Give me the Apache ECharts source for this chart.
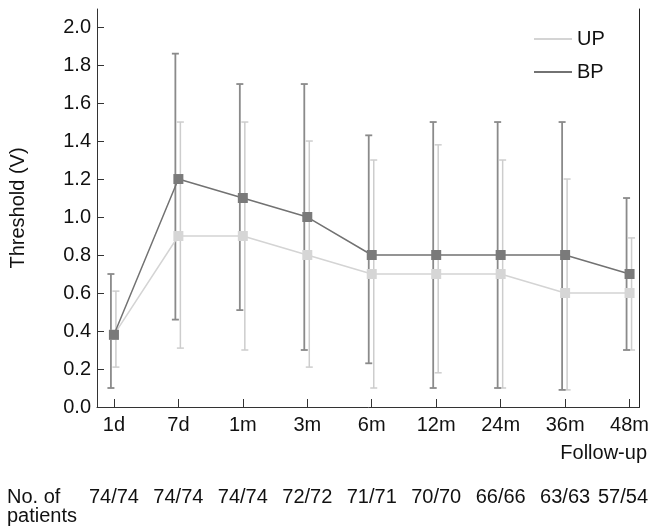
<!DOCTYPE html>
<html>
<head>
<meta charset="utf-8">
<script src="https://cdn.jsdelivr.net/npm/echarts@6/dist/echarts.min.js"></script>
<style>
  html, body { margin: 0; padding: 0; background: #fff; }
  #chart { width: 652px; height: 531px; }
</style>
</head>
<body>
<div id="chart"></div>
<script>
// follow-up time points
const categories = ['1d', '7d', '1m', '3m', '6m', '12m', '24m', '36m', '48m'];

// BP: mean and range
const bpMean = [0.38, 1.2, 1.1, 1.0, 0.8, 0.8, 0.8, 0.8, 0.7];
const bpLow = [0.1, 0.46, 0.51, 0.3, 0.23, 0.1, 0.1, 0.09, 0.3];
const bpHigh = [0.7, 1.86, 1.7, 1.7, 1.43, 1.5, 1.5, 1.5, 1.1];

// UP: mean and range
const upMean = [0.38, 0.9, 0.9, 0.8, 0.7, 0.7, 0.7, 0.6, 0.6];
const upLow = [0.21, 0.31, 0.3, 0.21, 0.1, 0.18, 0.1, 0.09, 0.3];
const upHigh = [0.61, 1.5, 1.5, 1.4, 1.3, 1.38, 1.3, 1.2, 0.89];

// number of patients (UP/BP)
const patients = ['74/74', '74/74', '74/74', '72/72', '71/71', '70/70', '66/66', '63/63', '57/54'];

const yTicks = [0, 0.2, 0.4, 0.6, 0.8, 1.0, 1.2, 1.4, 1.6, 1.8, 2.0];
const xTicks = categories.map((c, i) => i);

const FONT = "'Liberation Sans', Arial, sans-serif";
const UP_LINE = '#d4d4d4';
const UP_BAR = '#cdcdcd';
const BP_LINE = '#727272';
const BP_BAR = '#8a8a8a';

function errorBar(dx, color, width) {
  return function (params, api) {
    const x = api.value(0);
    const lo = api.coord([x, api.value(1)]);
    const hi = api.coord([x, api.value(2)]);
    const cx = lo[0] + dx;
    const half = 3.5;
    const style = { stroke: color, lineWidth: width };
    return {
      type: 'group',
      children: [
        { type: 'line', shape: { x1: cx, y1: hi[1], x2: cx, y2: lo[1] }, style },
        { type: 'line', shape: { x1: cx - half, y1: hi[1], x2: cx + half, y2: hi[1] }, style },
        { type: 'line', shape: { x1: cx - half, y1: lo[1], x2: cx + half, y2: lo[1] }, style },
      ],
    };
  };
}

const chart = echarts.init(document.getElementById('chart'));

chart.setOption({
  backgroundColor: '#fff',
  animation: false,
  textStyle: { fontFamily: FONT },
  grid: { left: 96, right: 11, top: 9, bottom: 124 },
  legend: {
    orient: 'vertical',
    left: 529,
    top: 24,
    itemWidth: 38,
    itemHeight: 2,
    itemGap: 13,
    textStyle: { fontSize: 20, color: '#111', fontFamily: FONT },
    data: [
      { name: 'UP', icon: 'rect', itemStyle: { color: UP_LINE } },
      { name: 'BP', icon: 'rect', itemStyle: { color: BP_LINE } },
    ],
  },
  xAxis: {
    type: 'value',
    min: -0.2625,
    max: 8.155,
    axisLine: { show: true, onZero: false, lineStyle: { color: '#333', width: 1 } },
    axisTick: { show: true, inside: true, length: 8, customValues: xTicks, lineStyle: { color: '#333' } },
    axisLabel: {
      customValues: xTicks,
      formatter: (v) => categories[Math.round(v)],
      fontSize: 20,
      color: '#111',
      margin: 8,
      fontFamily: FONT,
    },
    splitLine: { show: false },
  },
  yAxis: [
    {
      type: 'value',
      min: 0,
      max: 2.095,
      name: 'Threshold (V)',
      nameLocation: 'middle',
      nameGap: 69,
      nameRotate: 90,
      nameTextStyle: { fontSize: 20, color: '#111', fontFamily: FONT },
      axisLine: { show: true, onZero: false, lineStyle: { color: '#333', width: 1 } },
      axisTick: { show: true, inside: true, length: 7, customValues: yTicks, lineStyle: { color: '#333' } },
      axisLabel: {
        customValues: yTicks,
        formatter: (v) => v.toFixed(1),
        fontSize: 20,
        color: '#111',
        margin: 6,
        fontFamily: FONT,
      },
      splitLine: { show: false },
    },
    {
      type: 'value',
      position: 'right',
      min: 0,
      max: 2.095,
      axisLine: { show: true, onZero: false, lineStyle: { color: '#222', width: 1 } },
      axisTick: { show: false },
      axisLabel: { show: false },
      splitLine: { show: false },
    },
  ],
  series: [
    {
      name: 'UP range',
      type: 'custom',
      renderItem: errorBar(2, UP_BAR, 1.5),
      encode: { x: 0, y: [1, 2] },
      data: categories.map((c, i) => [i, upLow[i], upHigh[i]]),
      z: 1,
    },
    {
      name: 'BP range',
      type: 'custom',
      renderItem: errorBar(-3, BP_BAR, 1.8),
      encode: { x: 0, y: [1, 2] },
      data: categories.map((c, i) => [i, bpLow[i], bpHigh[i]]),
      z: 2,
    },
    {
      name: 'UP',
      type: 'line',
      data: categories.map((c, i) => [i, upMean[i]]),
      symbol: 'rect',
      symbolSize: 10,
      showAllSymbol: true,
      lineStyle: { color: UP_LINE, width: 1.5 },
      itemStyle: { color: '#d6d6d6' },
      z: 3,
    },
    {
      name: 'BP',
      type: 'line',
      data: categories.map((c, i) => [i, bpMean[i]]),
      symbol: 'rect',
      symbolSize: 10,
      showAllSymbol: true,
      lineStyle: { color: BP_LINE, width: 1.5 },
      itemStyle: { color: '#7a7a7a' },
      z: 4,
    },
  ],
});

// labels below the plot: follow-up title and patient counts under each time point
const countTexts = patients.map((p, i) => {
  const px = chart.convertToPixel({ xAxisIndex: 0 }, i);
  const half = 26;
  return {
    type: 'text',
    x: Math.min(px, 652 - half - 3),
    y: 497,
    style: {
      text: p,
      fontSize: 20,
      fontFamily: FONT,
      fill: '#111',
      align: 'center',
      verticalAlign: 'middle',
    },
  };
});

chart.setOption({
  graphic: [
    {
      type: 'text',
      x: 647,
      y: 453,
      style: { text: 'Follow-up', fontSize: 20, fontFamily: FONT, fill: '#111', align: 'right', verticalAlign: 'middle' },
    },
    {
      type: 'text',
      x: 7,
      y: 497,
      style: { text: 'No. of', fontSize: 20, fontFamily: FONT, fill: '#111', align: 'left', verticalAlign: 'middle' },
    },
    {
      type: 'text',
      x: 7,
      y: 516,
      style: { text: 'patients', fontSize: 20, fontFamily: FONT, fill: '#111', align: 'left', verticalAlign: 'middle' },
    },
  ].concat(countTexts),
});
</script>
</body>
</html>
